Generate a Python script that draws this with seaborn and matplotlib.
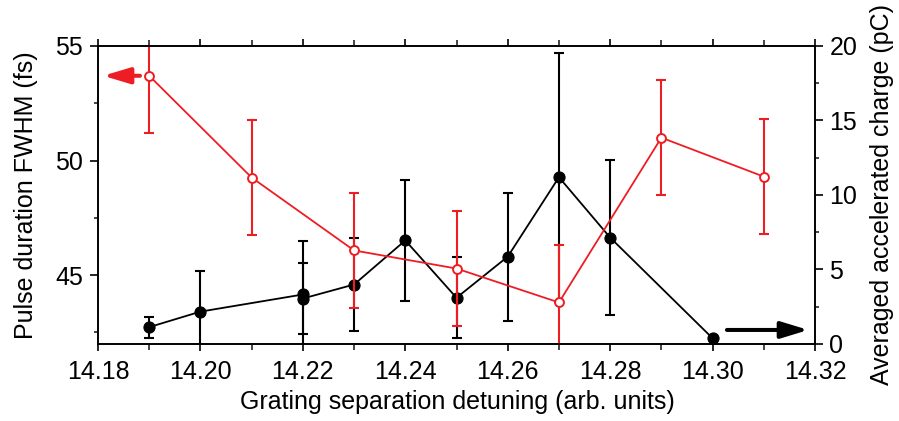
import matplotlib
matplotlib.use("Agg")
import matplotlib.pyplot as plt
import seaborn as sns
from matplotlib.ticker import MultipleLocator, FormatStrFormatter

# ---- data ----
pulse_x = [14.19, 14.21, 14.23, 14.25, 14.27, 14.29, 14.31]
pulse_fwhm = [53.7, 49.26, 46.08, 45.29, 43.81, 51.0, 49.3]
pulse_err = [2.5, 2.5, 2.5, 2.5, 2.5, 2.5, 2.52]

charge_x = [14.19, 14.20, 14.22, 14.22, 14.23, 14.24, 14.25, 14.26, 14.27, 14.28, 14.30]
charge_pc = [1.13, 2.17, 3.32, 3.05, 3.99, 6.95, 3.10, 5.86, 11.19, 7.14, 0.38]
charge_err = [0.70, 2.70, 3.60, 2.38, 3.12, 4.05, 2.72, 4.30, 8.36, 5.21, 0.0]

x_label = "Grating separation detuning (arb. units)"
y1_label = "Pulse duration FWHM (fs)"
y2_label = "Averaged accelerated charge (pC)"

RED = "#EE1D23"
FS = 18

sns.set_theme(style="ticks")
plt.rcParams['font.family'] = ['Liberation Sans', 'DejaVu Sans']

fig = plt.figure(figsize=(8.99, 4.21), dpi=100)
ax1 = fig.add_axes([0.109, 0.183, 0.7976, 0.7078])
ax2 = ax1.twinx()
ax1.set_zorder(ax2.get_zorder() + 1)
ax1.patch.set_visible(False)

# charge (black, right axis)
ax2.errorbar(charge_x, charge_pc, yerr=charge_err, fmt='none', ecolor='black',
             elinewidth=1.5, capsize=3.3, capthick=1.5, zorder=2)
sns.lineplot(x=charge_x, y=charge_pc, ax=ax2, color='black', marker='o',
             markersize=8.0, linewidth=1.3, estimator=None, sort=False,
             markeredgecolor='black', markeredgewidth=0.8, zorder=3)

# pulse duration (red, left axis)
ax1.errorbar(pulse_x, pulse_fwhm, yerr=pulse_err, fmt='none', ecolor=RED,
             elinewidth=1.5, capsize=3.3, capthick=1.5, zorder=2)
sns.lineplot(x=pulse_x, y=pulse_fwhm, ax=ax1, color=RED, marker='o',
             markersize=6.4, linewidth=1.3, estimator=None, sort=False,
             markerfacecolor='white', markeredgecolor=RED, markeredgewidth=1.4,
             zorder=3)

ax1.set_xlim(14.18, 14.32)
ax1.set_ylim(42, 55)
ax2.set_ylim(0, 20)

ax1.xaxis.set_major_locator(MultipleLocator(0.02))
ax1.xaxis.set_minor_locator(MultipleLocator(0.01))
ax1.xaxis.set_major_formatter(FormatStrFormatter('%.2f'))
ax1.yaxis.set_major_locator(MultipleLocator(5))
ax1.yaxis.set_minor_locator(MultipleLocator(2.5))
ax2.yaxis.set_major_locator(MultipleLocator(5))
ax2.yaxis.set_minor_locator(MultipleLocator(2.5))

LW = 1.2
for ax in (ax1, ax2):
    for sp in ax.spines.values():
        sp.set_linewidth(LW)
        sp.set_color('black')

ax1.tick_params(axis='x', which='major', direction='out', top=True, length=5.2,
                width=LW, pad=6, labelsize=FS, colors='black')
ax1.tick_params(axis='x', which='minor', direction='out', top=True, length=4.6,
                width=LW)
ax1.tick_params(axis='y', which='major', direction='out', length=5.8, width=LW,
                pad=5, labelsize=FS, right=False, colors='black')
ax1.tick_params(axis='y', which='minor', direction='out', length=3, width=LW,
                right=False)
ax2.tick_params(axis='y', which='major', direction='out', length=5.8, width=LW,
                pad=4.5, labelsize=FS, left=False, colors='black')
ax2.tick_params(axis='y', which='minor', direction='out', length=3, width=LW,
                left=False)

ax1.set_xlabel(x_label, fontsize=FS, color='black')
ax1.set_ylabel(y1_label, fontsize=FS, color='black')
ax2.set_ylabel(y2_label, fontsize=FS, color='black')
ax1.xaxis.set_label_coords(0.501, -0.155)
ax1.yaxis.set_label_coords(-0.083, 0.5)
ax2.yaxis.set_label_coords(1.077, 0.5)

# direction arrows
ax1.annotate('', xy=(14.1810, pulse_fwhm[0]), xytext=(14.1882, pulse_fwhm[0]),
             arrowprops=dict(arrowstyle='-|>,head_length=0.8,head_width=0.24',
                             mutation_scale=20, color=RED, lw=2.9,
                             shrinkA=0, shrinkB=0))
ax2.annotate('', xy=(14.3187, 0.94), xytext=(14.3028, 0.94),
             arrowprops=dict(arrowstyle='-|>,head_length=0.82,head_width=0.25',
                             mutation_scale=20, color='black', lw=2.9,
                             shrinkA=0, shrinkB=0))

fig.savefig("out.png", dpi=100)
